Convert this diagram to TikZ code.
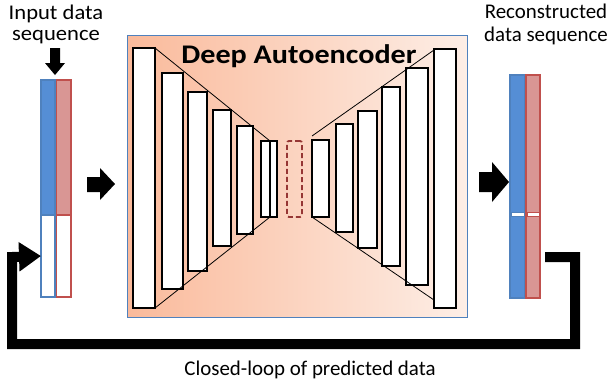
\documentclass[tikz,border=0pt]{standalone}
\usepackage{fontspec}
\setmainfont{Carlito}
\usetikzlibrary{arrows.meta,calc}
\definecolor{bluefill}{RGB}{85,142,213}
\definecolor{blueline}{RGB}{79,129,189}
\definecolor{redfill}{RGB}{217,150,148}
\definecolor{redline}{RGB}{192,80,77}
\definecolor{codecol}{RGB}{150,54,52}
\definecolor{gradleft}{RGB}{250,186,155}
\definecolor{gradright}{RGB}{253,238,230}
\tikzset{
  layer/.style={draw=black, fill=white, line width=2.4bp, inner sep=0, outer sep=0, anchor=north west},
  cell/.style={inner sep=0, outer sep=0, anchor=north west, line width=1.2bp},
  lbl/.style={align=center, inner sep=0, anchor=base},
  blockarrow/.style={fill=black, draw=none},
}
\begin{document}
\begin{tikzpicture}[x=1bp, y=-1bp]
\useasboundingbox (0,0) rectangle (610,385);
% main box
\node[inner sep=0, outer sep=0, anchor=north west, minimum width=340bp, minimum height=282bp] (box) at (127,35) {};
\shade[left color=gradleft, right color=gradright] (box.north west) rectangle (box.south east);
\draw[blueline, line width=0.8bp] (box.north west) rectangle (box.south east);
\node[font=\fontsize{27}{30}\selectfont\bfseries, inner sep=0, anchor=base, xscale=1.12] (title) at (299,63) {Deep Autoencoder};
% encoder
\node[layer, minimum width=22bp, minimum height=260bp] (e1) at (133,48) {};
\node[layer, minimum width=21bp, minimum height=216bp] (e2) at (162,73) {};
\node[layer, minimum width=19bp, minimum height=179bp] (e3) at (188,92) {};
\node[layer, minimum width=18bp, minimum height=136bp] (e4) at (213,110) {};
\node[layer, minimum width=16bp, minimum height=108bp] (e5) at (237,126) {};
\node[layer, minimum width=16bp, minimum height=76bp] (e6) at (261,141) {};
\node[layer, minimum width=9bp, minimum height=76bp] (e6a) at (261,141) {};
\draw[line width=0.8bp] (e1.north east) -- (e6a.north east);
\draw[line width=0.8bp] (e1.south east) -- (e6a.south east);
% code
\node[draw=codecol, dash pattern=on 5bp off 3bp, rounded corners=2bp, line width=1.8bp, inner sep=0, outer sep=0, anchor=north west, minimum width=15bp, minimum height=76bp] (code) at (287,141) {};
% decoder
\node[layer, minimum width=17bp, minimum height=77bp] (d1) at (312,140) {};
\node[layer, minimum width=17bp, minimum height=108bp] (d2) at (336,124) {};
\node[layer, minimum width=19bp, minimum height=137bp] (d3) at (358,111) {};
\node[layer, minimum width=18bp, minimum height=179bp] (d4) at (382,87) {};
\node[layer, minimum width=22bp, minimum height=217bp] (d5) at (406,68) {};
\node[layer, minimum width=22bp, minimum height=259bp] (d6) at (434,49) {};
\draw[line width=0.8bp] ($(d1.north west)+(0,-4)$) -- ($(d6.north west)+(0,1)$);
\draw[line width=0.8bp] (d1.south west) -- ($(d6.south west)+(0,-8)$);
% input sequence
\node[cell, fill=bluefill, draw=blueline, minimum width=14bp, minimum height=135bp] (in1) at (41,80) {};
\node[cell, fill=redfill, draw=redline, minimum width=14.5bp, minimum height=135bp] (in2) at (56.5,80) {};
\node[cell, fill=white, draw=blueline, minimum width=14bp, minimum height=82bp] (in3) at (41,215) {};
\node[cell, fill=white, draw=redline, minimum width=14.5bp, minimum height=82bp] (in4) at (56.5,215) {};
% output sequence
\node[cell, fill=bluefill, draw=blueline, minimum width=15bp, minimum height=223bp] (out1) at (510,75) {};
\node[cell, fill=redfill, draw=redline, minimum width=14bp, minimum height=223bp] (out2) at (526,75) {};
\node[cell, fill=white, draw=blueline, line width=0.5bp, minimum width=13bp, minimum height=3.5bp] (gap1) at (511,212.5) {};
\node[cell, fill=white, draw=redline, line width=0.5bp, minimum width=12bp, minimum height=3.5bp] (gap2) at (527,212.5) {};
% labels
\node[lbl, font=\fontsize{21}{21.5}\selectfont, xscale=1.08] (inlbl) at (56,40.7) {Input data\\sequence};
\node[lbl, font=\fontsize{21}{23.4}\selectfont] (outlbl) at (546,41.7) {Reconstructed\\data sequence};
\node[font=\fontsize{21}{24}\selectfont, inner sep=0, anchor=base] (loop) at (310,375) {Closed-loop of predicted data};
% block arrows
\fill[blockarrow] (50,48) -- (60,48) -- (60,63) -- (65,63) -- (55,75) -- (45,63) -- (50,63) -- cycle;
\fill[blockarrow] (87,177) -- (100,177) -- (100,168) -- (115,184) -- (100,200) -- (100,192) -- (87,192) -- cycle;
\fill[blockarrow] (479,172) -- (492,172) -- (492,162) -- (509,182) -- (492,202) -- (492,192) -- (479,192) -- cycle;
% feedback loop
\coordinate (fbs) at (545,257);
\draw[line width=10bp, line join=miter, -{Triangle[length=22bp,width=28bp]}]
  (fbs) -- (575,257) -- (575,344) -- (12,344) -- (12,257) -- (in3.west);
\end{tikzpicture}
\end{document}
